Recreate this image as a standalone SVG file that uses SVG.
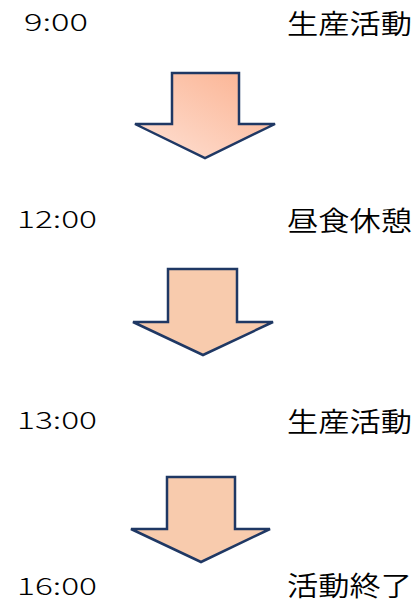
<svg xmlns="http://www.w3.org/2000/svg" width="416" height="603" viewBox="0 0 416 603">
<style>
.t{font-family:"Noto Sans CJK JP","Noto Sans",sans-serif;fill:#000}
.n{font-size:24px;font-weight:300}
.j{font-size:27px;font-weight:350}
.a{stroke:#1F3864;stroke-width:2.5;stroke-linejoin:miter}
.f{fill:#F8CBAD}
</style>
<defs>
<linearGradient id="g1" x1="1" y1="0" x2="0" y2="1">
<stop offset="0" stop-color="#FBB08E"/>
<stop offset="1" stop-color="#FEE2D6"/>
</linearGradient>
</defs>
<rect width="416" height="603" fill="#fff"/>
<g id="row1">
<text class="t n" x="24" y="31" textLength="64" lengthAdjust="spacingAndGlyphs">9:00</text>
<text class="t j" x="287" y="34" textLength="125" lengthAdjust="spacingAndGlyphs">生産活動</text>
</g>
<g id="row2">
<text class="t n" x="17" y="228" textLength="80" lengthAdjust="spacingAndGlyphs">12:00</text>
<text class="t j" x="287" y="231" textLength="125" lengthAdjust="spacingAndGlyphs">昼食休憩</text>
</g>
<g id="row3">
<text class="t n" x="17" y="429" textLength="80" lengthAdjust="spacingAndGlyphs">13:00</text>
<text class="t j" x="287" y="432" textLength="125" lengthAdjust="spacingAndGlyphs">生産活動</text>
</g>
<g id="row4">
<text class="t n" x="17" y="595" textLength="80" lengthAdjust="spacingAndGlyphs">16:00</text>
<text class="t j" x="287" y="596" textLength="125" lengthAdjust="spacingAndGlyphs">活動終了</text>
</g>
<g id="connectors">
<polygon class="a" fill="url(#g1)" points="172,73 239,73 239,124 275,124 205,158 135,124 172,124"/>
<polygon class="a f" points="168,269 237,269 237,322 273,322 203,355 133,322 168,322"/>
<polygon class="a f" points="167,477 235,477 235,529 270,529 201,562 131,529 167,529"/>
</g>
</svg>
